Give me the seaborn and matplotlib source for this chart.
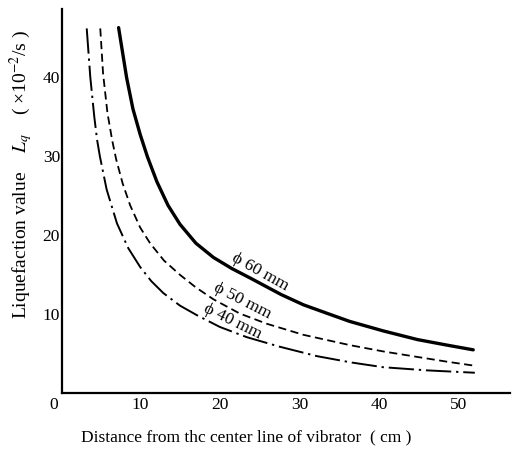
import numpy as np
import pandas as pd
import matplotlib
matplotlib.use("Agg")
import matplotlib.pyplot as plt
import seaborn as sns

# Data
x60 = [7.3, 8.3, 9.1, 10.0, 10.9, 12.1, 13.5, 15.0, 17.0, 19.2, 21.5, 23.8, 27.7, 30.5, 33.8, 36.3, 40.5, 44.8, 48.5, 51.8]
y60 = [46.3, 40.0, 36.0, 32.8, 30.0, 26.8, 23.8, 21.4, 19.0, 17.2, 15.8, 14.6, 12.5, 11.2, 10.0, 9.1, 7.9, 6.8, 6.1, 5.5]
x50 = [5.0, 5.35, 5.9, 6.5, 7.0, 7.8, 8.75, 10.0, 11.25, 13.0, 15.0, 17.0, 19.2, 22.5, 25.9, 30.5, 36.3, 40.5, 44.8, 48.5, 51.9]
y50 = [46.2, 40.5, 35.5, 32.0, 29.6, 26.6, 23.8, 21.0, 19.0, 16.8, 15.0, 13.4, 11.9, 10.1, 8.8, 7.4, 6.1, 5.3, 4.6, 4.0, 3.5]
x40 = [3.3, 3.75, 4.25, 4.6, 4.95, 5.8, 7.1, 8.5, 10.0, 11.4, 12.9, 15.0, 17.1, 20.0, 23.4, 27.5, 32.2, 36.5, 40.5, 46.0, 52.0]
y40 = [46.2, 40.0, 35.0, 32.1, 30.0, 25.8, 21.5, 18.4, 16.0, 14.2, 12.7, 11.1, 9.9, 8.4, 7.1, 5.9, 4.7, 3.9, 3.3, 2.9, 2.6]
labels = ["ϕ 60 mm", "ϕ 50 mm", "ϕ 40 mm"]
xticks = [10, 20, 30, 40, 50]
yticks = [10, 20, 30, 40]

sns.set_theme(style="white")
plt.rcParams["font.family"] = ["Liberation Serif", "DejaVu Serif"]
plt.rcParams["mathtext.fontset"] = "stix"
plt.rcParams["text.color"] = "black"
plt.rcParams["axes.labelcolor"] = "black"
plt.rcParams["xtick.color"] = "black"
plt.rcParams["ytick.color"] = "black"

fig = plt.figure(figsize=(5.13, 4.51), dpi=100)
ax = fig.add_axes([0.1209, 0.128, 0.873, 0.851])

df60 = pd.DataFrame({"x": x60, "y": y60})
df50 = pd.DataFrame({"x": x50, "y": y50})
df40 = pd.DataFrame({"x": x40, "y": y40})

sns.lineplot(data=df60, x="x", y="y", ax=ax, color="black", lw=2.4, sort=False, estimator=None)
sns.lineplot(data=df50, x="x", y="y", ax=ax, color="black", lw=1.3, sort=False, estimator=None,
             linestyle=(0, (4.5, 2.5)))
sns.lineplot(data=df40, x="x", y="y", ax=ax, color="black", lw=1.4, sort=False, estimator=None,
             linestyle=(0, (13, 2.5, 1.2, 2.5)))

ax.set_xlim(0.2, 56.4)
ax.set_ylim(0, 48.6)
ax.set_xticks(xticks)
ax.set_yticks(yticks)
ax.set_xticklabels([str(t) for t in xticks], fontsize=12.5)
ax.set_yticklabels([str(t) for t in yticks], fontsize=12.5)
ax.tick_params(axis="both", direction="in", length=5, width=1.0, color="black")
ax.tick_params(axis="x", pad=3)
ax.tick_params(axis="y", pad=1.5)
for s in ["top", "right"]:
    ax.spines[s].set_visible(False)
for s in ["left", "bottom"]:
    ax.spines[s].set_color("black")
    ax.spines[s].set_linewidth(1.6)

ax.text(-0.9, -0.45, "0", fontsize=12.5, ha="center", va="top", transform=ax.transData)

ax.set_xlabel("Distance from thc center line of vibrator  ( cm )", fontsize=12.5)
ax.xaxis.set_label_coords((246 - 62) / 448, -(437 - 393.3) / 384)
ax.xaxis.label.set_va("center")
ax.set_ylabel("Liquefaction value    $L_q$    ( ×10$^{-2}$/s )", fontsize=14)
ax.yaxis.set_label_coords(-(62 - 21) / 448, (393.3 - 174) / 384)
ax.yaxis.label.set_va("center")

ax.text(25.0, 15.3, labels[0], fontsize=12.5, rotation=-29, ha="center", va="center")
ax.text(22.8, 11.7, labels[1], fontsize=12.5, rotation=-27, ha="center", va="center")
ax.text(21.6, 9.1, labels[2], fontsize=12.5, rotation=-26, ha="center", va="center")

ax.set_facecolor("white")
fig.savefig("out.png", dpi=100, facecolor="white")
